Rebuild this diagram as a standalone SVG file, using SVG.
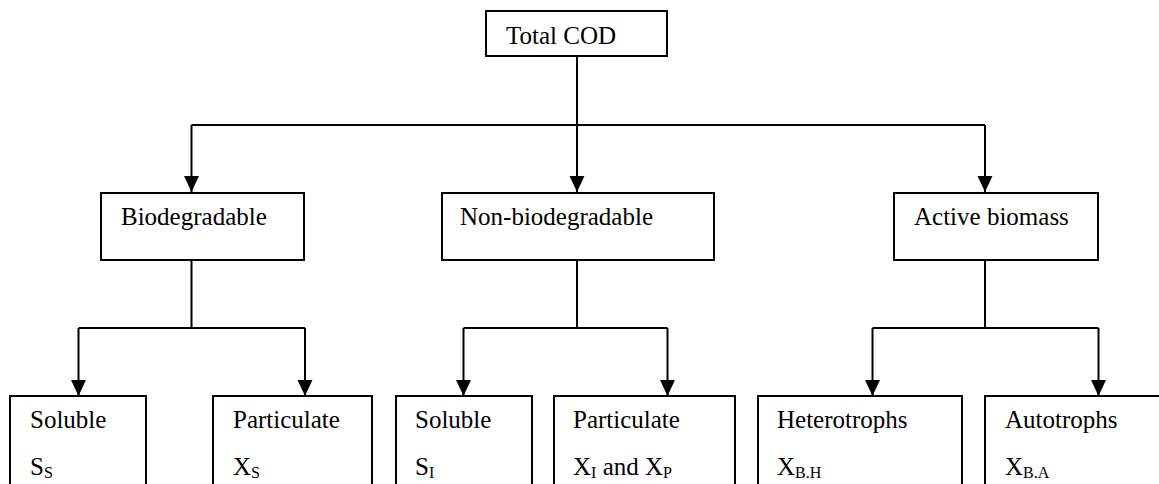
<svg xmlns="http://www.w3.org/2000/svg" width="1159" height="484" viewBox="0 0 1159 484">
<style>
.box{fill:#fff;stroke:#000;stroke-width:2}
.ln{fill:none;stroke:#000;stroke-width:2}
text{font-family:'Liberation Serif','Times New Roman','DejaVu Serif',serif;font-size:25px;fill:#000}
.sub{font-size:16px}
</style>
<defs>
<marker id="arr" markerUnits="userSpaceOnUse" markerWidth="16" markerHeight="16" viewBox="0 0 15 14" refX="15" refY="7" orient="auto">
<path d="M0,0 L15,7 L0,14 Z" fill="#000"/>
</marker>
</defs>
<g id="connectors">
<path class="ln" d="M577,56 V125"/>
<path class="ln" d="M191.5,125 H985"/>
<line class="ln" x1="191.5" y1="125" x2="191.5" y2="192" marker-end="url(#arr)"/>
<line class="ln" x1="577" y1="125" x2="577" y2="192" marker-end="url(#arr)"/>
<line class="ln" x1="985" y1="125" x2="985" y2="192" marker-end="url(#arr)"/>
<path class="ln" d="M191.5,260 V328 M78.5,328 H305 M463.5,328 H667.5 M577,260 V328 M872.5,328 H1098.5 M985,260 V328"/>
<line class="ln" x1="78.5" y1="328" x2="78.5" y2="396" marker-end="url(#arr)"/>
<line class="ln" x1="305" y1="328" x2="305" y2="396" marker-end="url(#arr)"/>
<line class="ln" x1="463.5" y1="328" x2="463.5" y2="396" marker-end="url(#arr)"/>
<line class="ln" x1="667.5" y1="328" x2="667.5" y2="396" marker-end="url(#arr)"/>
<line class="ln" x1="872.5" y1="328" x2="872.5" y2="396" marker-end="url(#arr)"/>
<line class="ln" x1="1098.5" y1="328" x2="1098.5" y2="396" marker-end="url(#arr)"/>
</g>
<g id="total">
<rect class="box" x="486" y="11" width="181" height="45"/>
<text x="506" y="44">Total COD</text>
</g>
<g id="biodegradable">
<rect class="box" x="101" y="193" width="203" height="67"/>
<text x="121" y="225">Biodegradable</text>
</g>
<g id="nonbiodegradable">
<rect class="box" x="442" y="193" width="272" height="67"/>
<text x="460" y="225">Non-biodegradable</text>
</g>
<g id="activebiomass">
<rect class="box" x="894" y="193" width="204" height="67"/>
<text x="914" y="225">Active biomass</text>
</g>
<g id="soluble-ss">
<rect class="box" x="10" y="396" width="136" height="110"/>
<text x="30" y="428">Soluble</text>
<text x="30" y="475">S<tspan class="sub" dy="3">S</tspan></text>
</g>
<g id="particulate-xs">
<rect class="box" x="213" y="396" width="159" height="110"/>
<text x="233" y="428">Particulate</text>
<text x="233" y="475">X<tspan class="sub" dy="3">S</tspan></text>
</g>
<g id="soluble-si">
<rect class="box" x="396" y="396" width="136" height="110"/>
<text x="415" y="428">Soluble</text>
<text x="415" y="475">S<tspan class="sub" dy="3">I</tspan></text>
</g>
<g id="particulate-xi-xp">
<rect class="box" x="554" y="396" width="181" height="110"/>
<text x="573" y="428">Particulate</text>
<text x="573" y="475">X<tspan class="sub" dy="3">I</tspan><tspan dy="-3"> and X</tspan><tspan class="sub" dy="3">P</tspan></text>
</g>
<g id="heterotrophs">
<rect class="box" x="758" y="396" width="204" height="110"/>
<text x="777" y="428">Heterotrophs</text>
<text x="777" y="475">X<tspan class="sub" dy="3">B.H</tspan></text>
</g>
<g id="autotrophs">
<rect class="box" x="985" y="396" width="185" height="110"/>
<text x="1005" y="428">Autotrophs</text>
<text x="1005" y="475">X<tspan class="sub" dy="3">B.A</tspan></text>
</g>
</svg>
